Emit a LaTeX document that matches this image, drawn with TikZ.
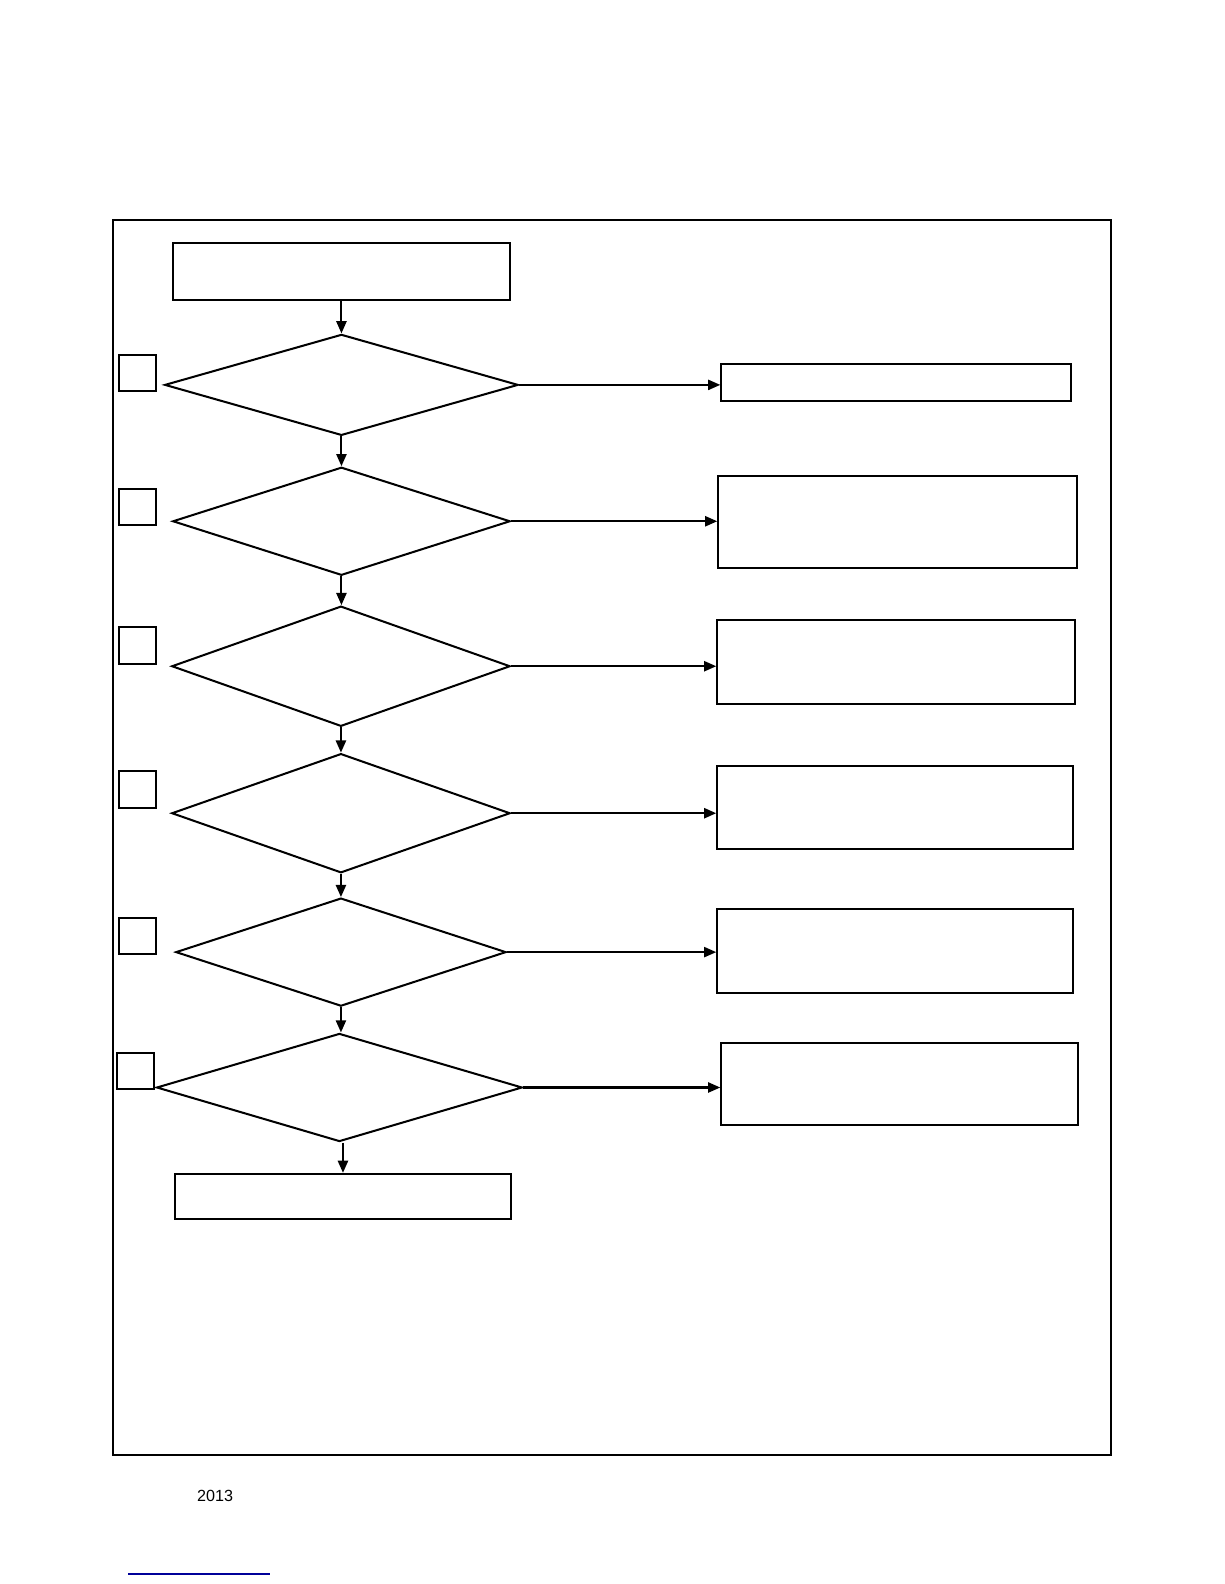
\documentclass[tikz,border=0pt]{standalone}
\usepackage{fontspec}
\setmainfont{Liberation Sans}
\usetikzlibrary{arrows.meta,positioning,shapes.geometric}
\tikzset{
flow/.style={>={Triangle[length=6pt,width=5pt]},line width=1pt,
x=0.5pt,y=-0.5pt},
box/.style={rectangle,draw,inner sep=0pt},
decide/.style={diamond,draw,inner sep=0pt},
tickbox/.style={rectangle,draw,minimum size=18pt,inner sep=0pt},
}
\begin{document}
\begin{tikzpicture}[flow]
\useasboundingbox (0,0) rectangle (1212,1568);
% frame
\node[box,minimum width=494pt,minimum height=611pt] (frame) at (606,829) {};

% left column
\node[box,minimum width=167pt,minimum height=28pt] (start) at (338,269) {};
\node[decide,minimum width=175pt,minimum height=50pt] (d1) at (338,381) {};
\node[decide,minimum width=167pt,minimum height=53.5pt] (d2) at (338,516) {};
\node[decide,minimum width=167.5pt,minimum height=59.5pt] (d3) at (337.5,659.5) {};
\node[decide,minimum width=167.5pt,minimum height=59pt] (d4) at (337.5,805) {};
\node[decide,minimum width=163.5pt,minimum height=53.5pt] (d5) at (337.5,942.5) {};
\node[decide,minimum width=181pt,minimum height=53.5pt] (d6) at (336,1076.5) {};
\node[box,minimum width=166.5pt,minimum height=22.5pt] (finish) at (339.5,1184.5) {};

% small squares
\node[tickbox] (t1) at (136,369) {};
\node[tickbox] (t2) at (136,502) {};
\node[tickbox] (t3) at (136,639) {};
\node[tickbox] (t4) at (136,781.5) {};
\node[tickbox] (t5) at (136,926.5) {};
\node[tickbox] (t6) at (134,1060) {};

% right column
\node[box,minimum width=173pt,minimum height=18.5pt] (r1) at (887,378.5) {};
\node[box,minimum width=177.5pt,minimum height=45.5pt] (r2) at (888.5,516.5) {};
\node[box,minimum width=177pt,minimum height=41.5pt] (r3) at (887,655.5) {};
\node[box,minimum width=176pt,minimum height=41pt] (r4) at (886,799) {};
\node[box,minimum width=176pt,minimum height=41.5pt] (r5) at (886,941.5) {};
\node[box,minimum width=176.5pt,minimum height=41pt] (r6) at (890.5,1073) {};

% down arrows
\draw[->] (start.south) -- (start.south |- d1.north);
\draw[->] (d1.south) -- (d1.south |- d2.north);
\draw[->] (d2.south) -- (d2.south |- d3.north);
\draw[->] (d3.south) -- (d3.south |- d4.north);
\draw[->] (d4.south) -- (d4.south |- d5.north);
\draw[->] (d5.south) -- (d5.south |- d6.north);
\draw[->] (d6.south -| finish.north) -- (finish.north);

% side arrows
\foreach \i in {1,...,6}
  \draw[->] (d\i.east) -- (d\i.east -| r\i.west);

\node[font=\fontsize{8pt}{9pt}\selectfont] (year) at (213,1481) {2013};
\coordinate (lnA) at (127,1558);
\coordinate (lnB) at (267,1558);
\draw[blue!60!black,line width=0.6pt] (lnA) -- (lnB);
\end{tikzpicture}
\end{document}
